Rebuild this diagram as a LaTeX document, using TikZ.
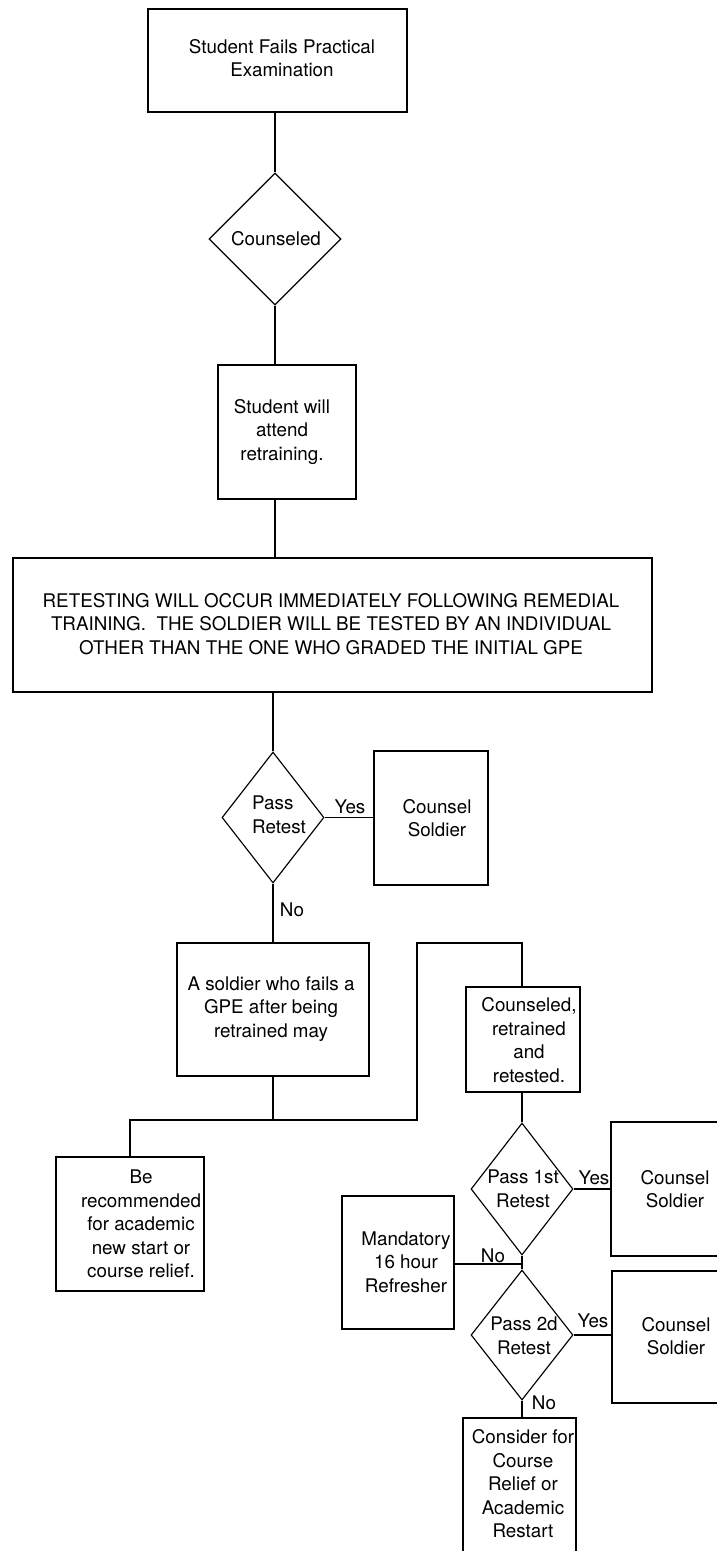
\documentclass[tikz,border=0pt]{standalone}
\usepackage{fontspec}
\setmainfont{TeX Gyre Heros}
\usetikzlibrary{shapes.geometric}

\tikzset{
  flow/.style={line width=1.15pt, line join=miter},
  box/.style={draw, line width=1.15pt, rectangle, inner sep=0pt},
  decision/.style={draw, line width=1.15pt, diamond, inner sep=0pt},
  txt/.style={inner sep=0pt, align=center,
    font=\fontsize{18.8}{23.5}\selectfont},
  lbl/.style={inner sep=0pt, font=\fontsize{18.8}{22}\selectfont}
}

\begin{document}
\begin{tikzpicture}[x=1pt, y=-1pt]
\useasboundingbox (0,0) rectangle (717,1551);
\clip (0,0) rectangle (717,1551);
\fill[white] (0,0) rectangle (717,1551);

% ---- main column ----
\node[box, minimum width=259pt, minimum height=103pt] (fail) at (277.5,60.5) {};
\node[txt] (failtxt) at (282,58) {Student Fails Practical\\Examination};

\node[decision, minimum width=132pt, minimum height=132pt] (couns) at (275,239) {};
\node[txt] (counstxt) at (276,239) {Counseled};

\node[box, minimum width=138pt, minimum height=134pt] (retrain) at (287,432) {};
\node[txt] (retraintxt) at (282,432) {Student will\\attend\\retraining.};

\node[box, minimum width=639pt, minimum height=134pt] (retest) at (332.5,625) {};
\node[txt] (retesttxt) at (331,624) {RETESTING WILL OCCUR IMMEDIATELY FOLLOWING REMEDIAL\\
TRAINING.\ \ THE SOLDIER WILL BE TESTED BY AN INDIVIDUAL\\
OTHER THAN THE ONE WHO GRADED THE INITIAL GPE};

\node[decision, minimum width=102pt, minimum height=131pt] (pass) at (273,817.5) {};
\node[txt, align=left] (passtxt) at (279,815) {Pass\\Retest};

\node[box, minimum width=114pt, minimum height=134pt] (cs1) at (431,818) {};
\node[txt] (cs1txt) at (437,818) {Counsel\\Soldier};

\node[box, minimum width=192pt, minimum height=133pt] (may) at (273,1009.5) {};
\node[txt] (maytxt) at (271,1009) {A soldier who fails a\\GPE after being\\retrained may};

% ---- left outcome ----
\node[box, minimum width=148pt, minimum height=134pt] (newstart) at (130,1224) {};
\node[txt] (newstarttxt) at (141,1224) {Be\\recommended\\for academic\\new start or\\course relief.};

% ---- right outcome ----
\node[box, minimum width=114pt, minimum height=105pt] (crr) at (523,1039.5) {};
\node[txt] (crrtxt) at (529,1040) {Counseled,\\retrained\\and\\retested.};

\node[decision, minimum width=102pt, minimum height=132pt] (first) at (522,1189) {};
\node[txt] (firsttxt) at (523,1189) {Pass 1st\\Retest};

\node[box, minimum width=128pt, minimum height=134pt] (cs2) at (675,1189) {};
\node[txt] (cs2txt) at (675,1189) {Counsel\\Soldier};

\node[box, minimum width=112pt, minimum height=133pt] (refresh) at (398,1262.5) {};
\node[txt] (refreshtxt) at (406,1262) {Mandatory\\16 hour\\Refresher};

\node[decision, minimum width=102pt, minimum height=130pt] (second) at (522,1335) {};
\node[txt] (secondtxt) at (524,1336) {Pass 2d\\Retest};

\node[box, minimum width=128pt, minimum height=132pt] (cs3) at (676,1337) {};
\node[txt] (cs3txt) at (676,1336) {Counsel\\Soldier};

\node[box, minimum width=113pt, minimum height=136pt] (relief) at (519.5,1486) {};
\node[txt] (relieftxt) at (523,1484) {Consider for\\Course\\Relief or\\Academic\\Restart};

% ---- branch points ----
\coordinate (split) at (273,1120);
\coordinate (splitR) at (417,1120);
\coordinate (riseTop) at (417,943);
\coordinate (junc) at (522,1264);

% ---- connectors ----
\draw[flow] (couns.north |- fail.south) -- (couns.north);
\draw[flow] (couns.south) -- (couns.south |- retrain.north);
\draw[flow] (couns.south |- retrain.south) -- (couns.south |- retest.north);
\draw[flow] (pass.north |- retest.south) -- (pass.north);
\draw[flow] (pass.east) -- (pass.east -| cs1.west);
\draw[flow] (pass.south) -- (may.north);
\draw[flow] (may.south) -- (split);
\draw[flow] (split) -| (newstart.north);
\draw[flow] (split) -- (splitR) -- (riseTop) -| (first.north |- crr.north);
\draw[flow] (first.north |- crr.south) -- (first.north);
\draw[flow] (first.east) -- (first.east -| cs2.west);
\draw[flow] (first.south) -- (second.north);
\draw[flow] (junc) -- (junc -| refresh.east);
\draw[flow] (second.east) -- (second.east -| cs3.west);
\draw[flow] (second.south) -- (second.south |- relief.north);

% ---- branch labels ----
\node[lbl] (yes0) at (350,807) {Yes};
\node[lbl] (no0) at (292,910) {No};
\node[lbl] (yes1) at (594,1178) {Yes};
\node[lbl] (no1) at (493,1256) {No};
\node[lbl] (yes2) at (593,1321) {Yes};
\node[lbl] (no2) at (544,1403) {No};
\end{tikzpicture}
\end{document}
